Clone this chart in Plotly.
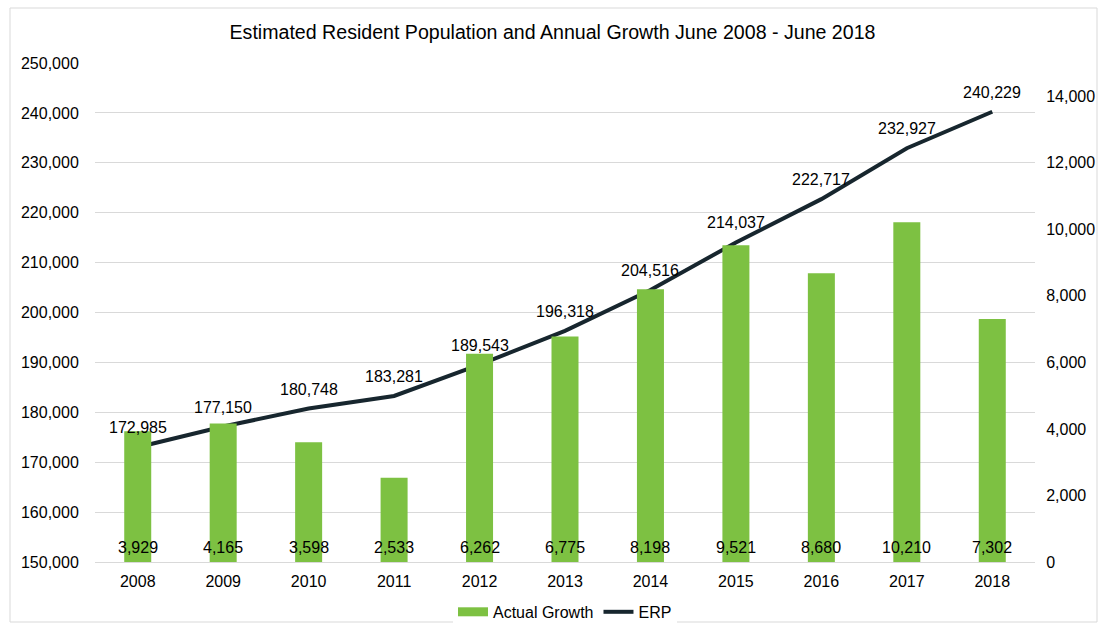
import plotly.graph_objects as go

years = ["2008", "2009", "2010", "2011", "2012", "2013", "2014", "2015", "2016", "2017", "2018"]
actual_growth = [3929, 4165, 3598, 2533, 6262, 6775, 8198, 9521, 8680, 10210, 7302]
erp = [172985, 177150, 180748, 183281, 189543, 196318, 204516, 214037, 222717, 232927, 240229]

FONT = "Liberation Sans, Arial, sans-serif"
GREEN = "#7dc142"
DARK = "#17262e"

fig = go.Figure()
fig.add_trace(go.Bar(
    x=years, y=actual_growth, name="Actual Growth", yaxis="y2",
    marker=dict(color=GREEN, line=dict(width=0)), showlegend=False,
))
# legend-only entry drawn as a wide green block like the original
fig.add_trace(go.Scatter(
    x=years, y=[None] * len(years), name="Actual Growth", mode="lines",
    line=dict(color=GREEN, width=9), yaxis="y2", hoverinfo="skip",
))
fig.add_trace(go.Scatter(
    x=years, y=erp, name="ERP", mode="lines",
    line=dict(color=DARK, width=4),
))

# annotations on a category axis are positioned by category index
annotations = []
for i, v in enumerate(erp):
    annotations.append(dict(x=i, y=v, xref="x", yref="y", text=f"{v:,}", showarrow=False,
                            yanchor="bottom", yshift=9,
                            font=dict(size=16, family=FONT, color="#000000")))
for i, v in enumerate(actual_growth):
    annotations.append(dict(x=i, y=0, xref="x", yref="y2", text=f"{v:,}", showarrow=False,
                            yanchor="bottom", yshift=4,
                            font=dict(size=16, family=FONT, color="#000000")))

fig.update_layout(
    width=1105, height=631,
    paper_bgcolor="white", plot_bgcolor="white",
    margin=dict(l=95, r=70, t=63, b=69, autoexpand=False),
    font=dict(family=FONT, size=16, color="#000000"),
    title=dict(text="Estimated Resident Population and Annual Growth June 2008 - June 2018",
               x=0.5, xanchor="center", y=0.949, yanchor="middle",
               font=dict(size=19.6, family=FONT, color="#000000")),
    bargap=0.684,
    xaxis=dict(type="category", range=[-0.5, len(years) - 0.5],
               showgrid=False, showline=True, linecolor="#d9d9d9", linewidth=1,
               ticks="outside", ticklen=5, tickcolor="white", tickfont=dict(size=16)),
    yaxis=dict(range=[150000, 250000], dtick=10000, tickformat=",",
               showgrid=True, gridcolor="#d9d9d9", gridwidth=1, zeroline=False,
               ticks="outside", ticklen=12, tickcolor="white", tickfont=dict(size=16)),
    yaxis2=dict(range=[0, 15000], dtick=2000, tickformat=",", overlaying="y", side="right",
                showgrid=False, zeroline=False, ticks="outside", ticklen=7, tickcolor="white",
                tickfont=dict(size=16)),
    legend=dict(orientation="h", x=0.5, xanchor="center", y=-0.1, yanchor="middle",
                font=dict(size=16), traceorder="normal"),
    annotations=annotations,
    shapes=[dict(type="rect", xref="paper", yref="paper",
                 x0=(10 - 95) / 940, x1=(1097 - 95) / 940,
                 y0=(562 - 622) / 499, y1=(562 - 8) / 499,
                 line=dict(color="#d9d9d9", width=1), fillcolor="rgba(0,0,0,0)", layer="below")],
)

fig.write_html("out.html", config={"displayModeBar": False},
               post_script="document.body.style.margin='0';document.body.style.overflow='hidden';")
